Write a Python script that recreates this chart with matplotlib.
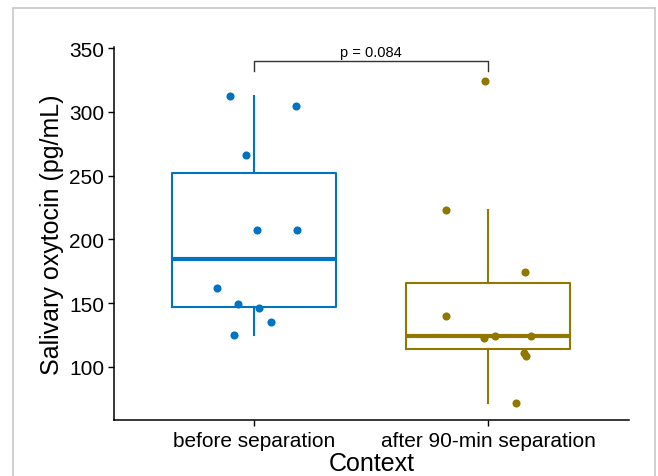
import matplotlib
matplotlib.use("Agg")
import matplotlib.pyplot as plt
from matplotlib.lines import Line2D
import numpy as np

plt.rcParams['font.family'] = ['Liberation Sans', 'DejaVu Sans']

categories = ["before separation", "after 90-min separation"]
before_vals = [312.3, 305.0, 266.5, 207.3, 207.3, 162.0, 149.2, 146.0, 135.0, 125.0]
after_vals = [324.3, 223.0, 174.1, 140.1, 122.3, 124.0, 124.0, 110.8, 108.7, 71.5]
before_jitter = [-0.102, 0.177, -0.035, 0.013, 0.183, -0.158, -0.068, 0.022, 0.072, -0.085]
after_jitter = [-0.015, -0.179, 0.157, -0.181, -0.017, 0.031, 0.184, 0.154, 0.161, 0.118]
p_label = "p = 0.084"
bracket_y = 340.3
bracket_tick = 8.0

colors = ["#0073C2", "#8F7700"]
W, H = 658, 477
fig = plt.figure(figsize=(W / 100, H / 100), dpi=100)
ax = fig.add_axes([114 / W, 1 - 421 / H, (628.5 - 114) / W, (421 - 48) / H])

groups = [before_vals, after_vals]
jitters = [before_jitter, after_jitter]
for i, (vals, jit, col) in enumerate(zip(groups, jitters, colors)):
    pos = i + 1
    ax.boxplot([vals], positions=[pos], widths=0.7, whis=1.5, showfliers=False,
               patch_artist=False, manage_ticks=False,
               boxprops=dict(color=col, linewidth=1.5),
               whiskerprops=dict(color=col, linewidth=1.5),
               capprops=dict(linewidth=0),
               medianprops=dict(color=col, linewidth=3.0))
    ax.scatter(pos + np.array(jit), vals, s=34, color=col, zorder=3, linewidths=0)

# significance bracket
ax.plot([1, 1, 2, 2], [bracket_y - bracket_tick, bracket_y, bracket_y, bracket_y - bracket_tick],
        color="#333333", linewidth=1.0, clip_on=False)
ax.text(1.5, bracket_y + 1.0, p_label, ha='center', va='bottom', fontsize=10.5, color='black')

ax.set_xlim(0.4, 2.6)
ax.set_ylim(58.2, 351.0)
ax.set_xticks([1, 2])
ax.set_xticklabels(categories)
ax.set_yticks([100, 150, 200, 250, 300, 350])
ax.tick_params(axis='both', labelsize=15, length=4, width=1.0, color='black', pad=3, labelcolor='black')
ax.tick_params(axis='x', pad=4)
for s in ['top', 'right']:
    ax.spines[s].set_visible(False)
for s in ['left', 'bottom']:
    ax.spines[s].set_linewidth(1.1)
ax.set_xlabel("Context", fontsize=18, labelpad=0.5)
ax.set_ylabel("Salivary oxytocin (pg/mL)", fontsize=18, labelpad=4)

# light grey frame of the screenshot
gc = "#C8C8C8"
fig.add_artist(Line2D([13 / W, 13 / W], [0, 1 - 9 / H], transform=fig.transFigure, color=gc, linewidth=1.2))
fig.add_artist(Line2D([13 / W, 655 / W], [1 - 9 / H, 1 - 9 / H], transform=fig.transFigure, color=gc, linewidth=1.2))
fig.add_artist(Line2D([655 / W, 655 / W], [0, 1 - 9 / H], transform=fig.transFigure, color=gc, linewidth=1.2))

fig.savefig("out.png", dpi=100)
